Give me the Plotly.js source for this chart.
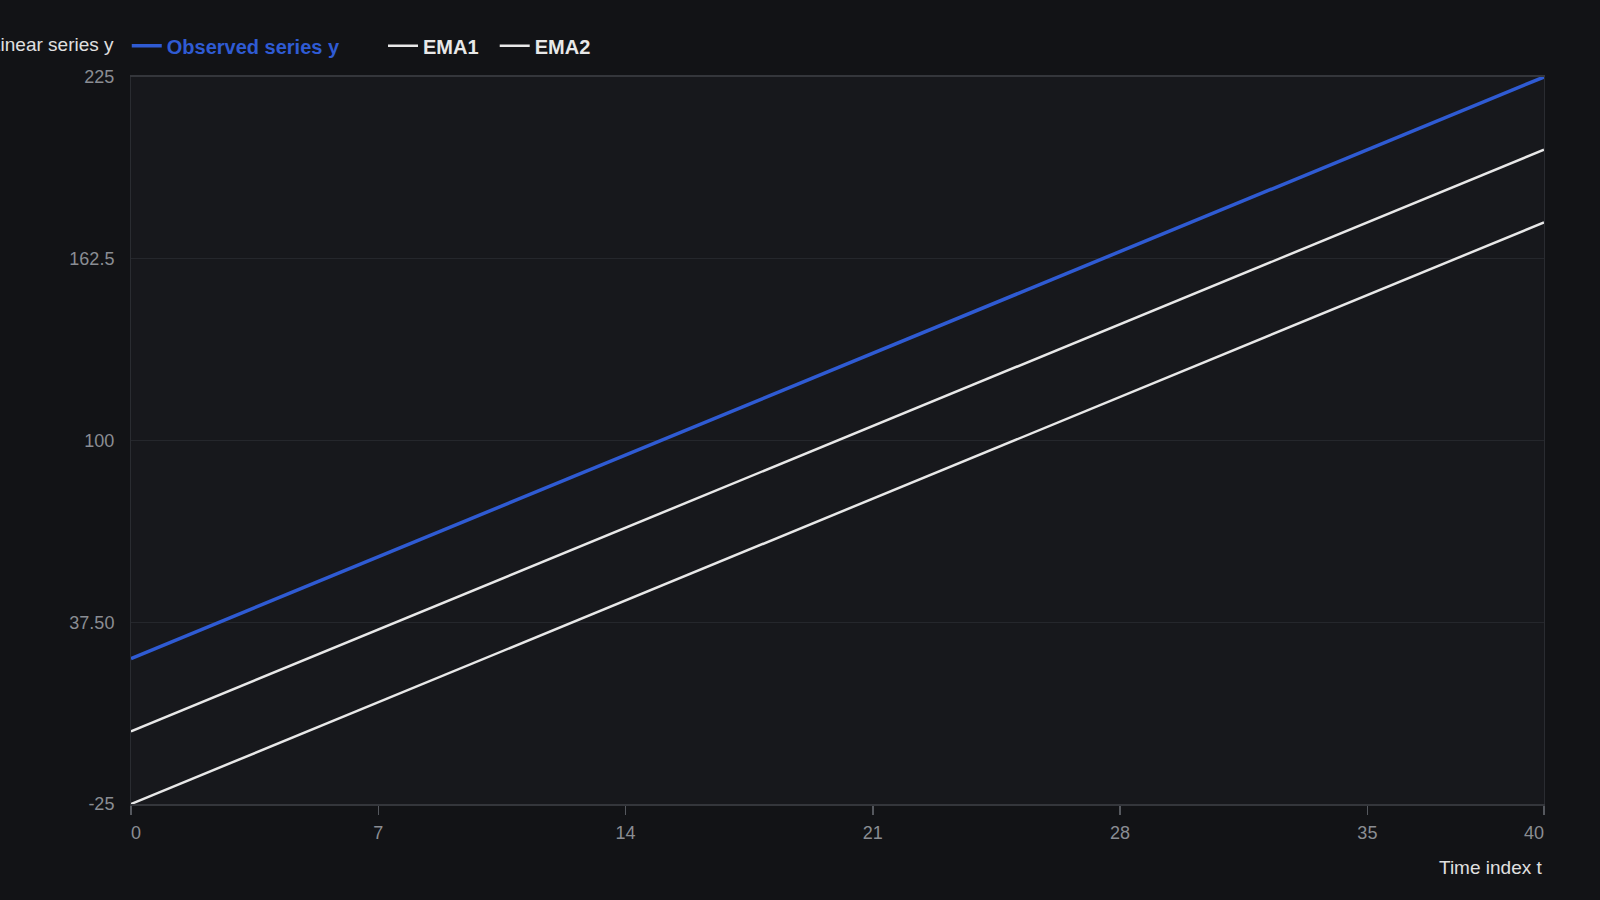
<!DOCTYPE html>
<html>
<head>
<meta charset="utf-8">
<script src="https://cdn.plot.ly/plotly-3.0.1.min.js"></script>
<style>
  html, body { margin: 0; padding: 0; background: #121316; }
  #chart { width: 1600px; height: 900px; }
</style>
</head>
<body>
<div id="chart"></div>
<script>
// Time index
var timeIndex = [0, 1, 2, 3, 4, 5, 6, 7, 8, 9, 10, 11, 12, 13, 14, 15, 16, 17, 18, 19, 20,
                 21, 22, 23, 24, 25, 26, 27, 28, 29, 30, 31, 32, 33, 34, 35, 36, 37, 38, 39, 40];

// Series values
var observedY = [25, 30, 35, 40, 45, 50, 55, 60, 65, 70, 75, 80, 85, 90, 95, 100, 105, 110, 115, 120, 125,
                 130, 135, 140, 145, 150, 155, 160, 165, 170, 175, 180, 185, 190, 195, 200, 205, 210, 215, 220, 225];
var ema1 = [0, 5, 10, 15, 20, 25, 30, 35, 40, 45, 50, 55, 60, 65, 70, 75, 80, 85, 90, 95, 100,
            105, 110, 115, 120, 125, 130, 135, 140, 145, 150, 155, 160, 165, 170, 175, 180, 185, 190, 195, 200];
var ema2 = [-25, -20, -15, -10, -5, 0, 5, 10, 15, 20, 25, 30, 35, 40, 45, 50, 55, 60, 65, 70, 75,
            80, 85, 90, 95, 100, 105, 110, 115, 120, 125, 130, 135, 140, 145, 150, 155, 160, 165, 170, 175];

// Tick labels
var xTicks = [0, 7, 14, 21, 28, 35, 40];
var xTickText = ['\u00a0\u00a00', '7', '14', '21', '28', '35', '40\u00a0\u00a0\u00a0\u00a0'];
var yTickVals = [-25, 37.5, 100, 162.5, 225];
var yTickText = ['-25', '37.50', '100', '162.5', '225'];

var blue = '#2f5bd3';
var white = '#e8e8e8';
var gap = '\u00a0';

var traces = [
    {
        x: timeIndex, y: observedY,
        type: 'scatter', mode: 'lines',
        name: '<span style="color:' + blue + '"><b>Observed series y</b></span>' + gap.repeat(7),
        line: { color: blue, width: 3.5 },
        hoverinfo: 'skip'
    },
    {
        x: timeIndex, y: ema1,
        type: 'scatter', mode: 'lines',
        name: '<b>EMA1</b>' + gap.repeat(2),
        line: { color: white, width: 2.5 },
        hoverinfo: 'skip'
    },
    {
        x: timeIndex, y: ema2,
        type: 'scatter', mode: 'lines',
        name: '<b>EMA2</b>',
        line: { color: white, width: 2.5 },
        hoverinfo: 'skip'
    }
];

var layout = {
    width: 1600,
    height: 900,
    paper_bgcolor: '#121316',
    plot_bgcolor: '#17181c',
    font: { family: 'Liberation Sans, Arial, sans-serif', color: '#8a8d93', size: 18 },
    margin: { l: 131, r: 56, t: 77, b: 96 },
    showlegend: true,
    legend: {
        orientation: 'h',
        x: -0.003, xanchor: 'left',
        y: 1.043, yanchor: 'middle',
        font: { size: 20, color: '#e8e8e8' },
        bgcolor: 'rgba(0,0,0,0)',
        itemwidth: 30,
        traceorder: 'normal'
    },
    xaxis: {
        range: [0, 40],
        tickvals: xTicks,
        ticktext: xTickText,
        ticks: 'outside',
        ticklen: 9,
        tickcolor: '#55585e',
        tickwidth: 1.5,
        ticklabelstandoff: 2,
        showgrid: false,
        zeroline: false,
        showline: true,
        linecolor: '#34363b',
        linewidth: 2,
        mirror: true,
        tickfont: { size: 18, color: '#8a8d93' }
    },
    yaxis: {
        range: [-25, 225],
        tickvals: yTickVals,
        ticktext: yTickText,
        ticks: '',
        showgrid: true,
        gridcolor: '#25272c',
        gridwidth: 1,
        zeroline: false,
        showline: true,
        linecolor: '#2a2c31',
        linewidth: 1,
        mirror: true,
        tickfont: { size: 18, color: '#8a8d93' },
        ticklabelstandoff: 12
    },
    annotations: [
        {
            text: 'Linear series y',
            xref: 'paper', yref: 'paper',
            x: -0.0106, y: 1.045, xanchor: 'right', yanchor: 'middle',
            showarrow: false,
            font: { size: 19, color: '#e0e0e0' }
        },
        {
            text: 'Time index t',
            xref: 'paper', yref: 'paper',
            x: 1.0, y: 0, xanchor: 'right', yanchor: 'middle', yshift: -63,
            showarrow: false,
            font: { size: 19, color: '#e0e0e0' }
        }
    ]
};

Plotly.newPlot('chart', traces, layout, { displayModeBar: false, staticPlot: true });
</script>
</body>
</html>
